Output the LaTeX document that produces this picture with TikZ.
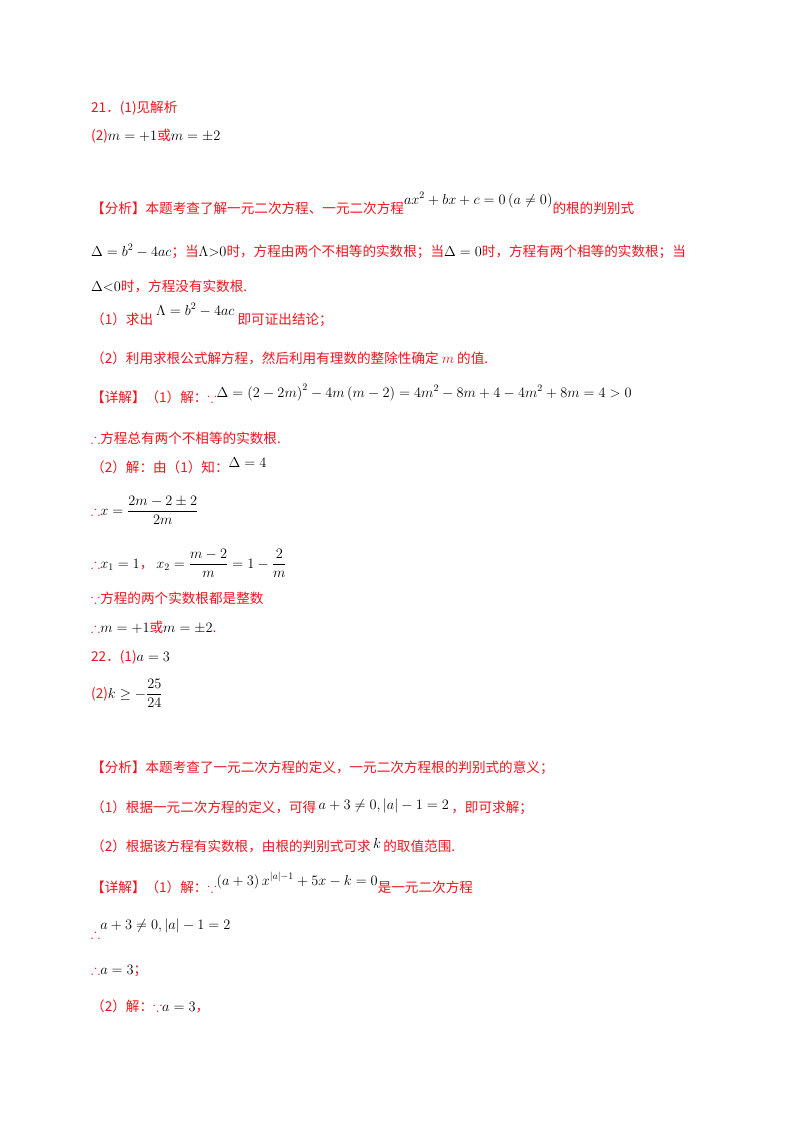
\documentclass[tikz,border=0pt]{standalone}
\usepackage{amsmath}
\usepackage{amssymb}
\usepackage{fontspec}
\setmainfont{Noto Sans CJK SC}
\definecolor{rd}{RGB}{240,20,30}
\newcommand\R[1]{\textcolor{rd}{#1}}
\begin{document}
\begin{tikzpicture}[x=1pt,y=-1pt,ln/.style={anchor=base west,inner sep=0pt,font=\fontsize{13.6}{15}\selectfont}]
\useasboundingbox[fill=white] (0,0) rectangle (800,1132);
\node[ln] (l1) at (91,112) {\R{21．(1)见解析}};
\node[ln] (l2) at (91,140) {\R{(2)}$m=+1$\R{或}$m=\pm2$};
\node[ln] (l3) at (91,213) {\R{【分析】本题考查了解一元二次方程、一元二次方程}\raisebox{9pt}{$ax^2+bx+c=0\left(a\neq0\right)$}\R{的根的判别式}};
\node[ln] (l4) at (91,256) {$\Delta=b^2-4ac$\R{；当}$\Lambda{>}0$\R{时，方程由两个不相等的实数根；当}$\Delta=0$\R{时，方程有两个相等的实数根；当}};
\node[ln] (l5) at (91,291) {$\Delta{<}0$\R{时，方程没有实数根.}};
\node[ln] (l6) at (91,324) {\R{（1）求出}\raisebox{9pt}{$\ \Lambda=b^2-4ac\ $}\R{即可证出结论；}};
\node[ln] (l7) at (91,363) {\R{（2）利用求根公式解方程，然后利用有理数的整除性确定 $m$ 的值.}};
\node[ln] (l8) at (91,402) {\R{【详解】（1）解：$\because$}\raisebox{5pt}{$\Delta=\left(2-2m\right)^2-4m\left(m-2\right)=4m^2-8m+4-4m^2+8m=4>0$}};
\node[ln] (l9) at (91,443) {\R{$\therefore$方程总有两个不相等的实数根.}};
\node[ln] (l10) at (91,472) {\R{（2）解：由（1）知：}\raisebox{5pt}{$\Delta=4$}};
\node[ln] (l11) at (91,515) {\R{$\therefore$}$x=\dfrac{2m-2\pm2}{2m}$};
\node[ln] (l12) at (91,568) {\R{$\therefore$}$x_1=1$\R{，}\ $x_2=\dfrac{m-2}{m}=1-\dfrac{2}{m}$};
\node[ln] (l13) at (91,603) {\R{$\because$方程的两个实数根都是整数}};
\node[ln] (l14) at (91,632) {\R{$\therefore$}$m=+1$\R{或}$m=\pm2$\R{.}};
\node[ln] (l15) at (91,661) {\R{22．(1)}$a=3$};
\node[ln] (l16) at (91,698) {\R{(2)}$k\geq-\dfrac{25}{24}$};
\node[ln] (l17) at (91,772) {\R{【分析】本题考查了一元二次方程的定义，一元二次方程根的判别式的意义；}};
\node[ln] (l18) at (91,812) {\R{（1）根据一元二次方程的定义，可得}\raisebox{3pt}{$\,a+3\neq0,\left|a\right|-1=2\,$}\R{，即可求解；}};
\node[ln] (l19) at (91,851) {\R{（2）根据该方程有实数根，由根的判别式可求}\raisebox{3pt}{$\,k\,$}\R{的取值范围.}};
\node[ln] (l20) at (91,892) {\R{【详解】（1）解：$\because$}\raisebox{7pt}{$\left(a+3\right)x^{|a|-1}+5x-k=0$}\R{是一元二次方程}};
\node[ln] (l21) at (91,938) {\R{$\therefore$}\raisebox{9pt}{$a+3\neq0,\left|a\right|-1=2$}};
\node[ln] (l22) at (91,974) {\R{$\therefore$}$a=3$\R{；}};
\node[ln] (l23) at (91,1011) {\R{（2）解：$\because$}$a=3$\R{，}};
\end{tikzpicture}
\end{document}
